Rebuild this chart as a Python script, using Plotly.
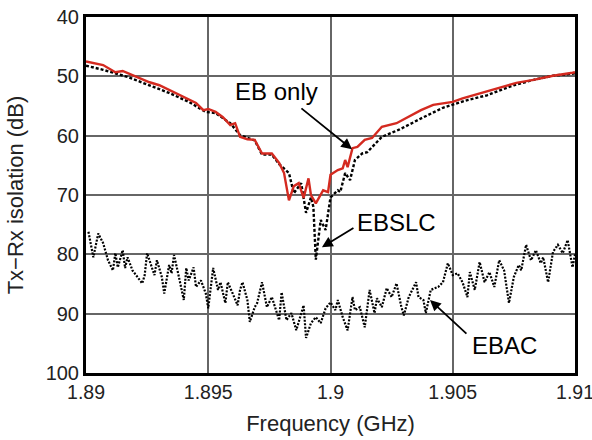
import plotly.graph_objects as go

# ---- data ----
eb_freq = [1.8900, 1.8907, 1.8912, 1.8915, 1.8919, 1.8926, 1.8930, 1.8934, 1.8940, 1.8945,
           1.8948, 1.8950, 1.8953, 1.8956, 1.8959, 1.8961, 1.8963, 1.8966, 1.8969, 1.8972,
           1.8976, 1.8979, 1.8981, 1.8983, 1.8985, 1.8987, 1.8989, 1.8991, 1.8992, 1.8994,
           1.8997, 1.8999, 1.9000, 1.9003, 1.9005, 1.9006, 1.9007, 1.9009, 1.9011, 1.9014,
           1.9017, 1.9021, 1.9027, 1.9033, 1.9037, 1.9042, 1.9050, 1.9054, 1.9062, 1.9069,
           1.9076, 1.9083, 1.9091, 1.9099, 1.9100]
eb_db = [47.5, 48.1, 49.3, 49.1, 49.8, 51.0, 51.5, 52.3, 53.5, 54.5,
         55.7, 55.5, 56.0, 56.9, 58.2, 57.9, 60.2, 60.6, 60.7, 63.0,
         63.0, 64.6, 66.3, 70.9, 68.5, 68.0, 70.5, 67.2, 70.0, 71.4,
         69.2, 69.5, 66.6, 65.8, 65.5, 64.1, 65.3, 62.1, 61.9, 60.7,
         60.4, 58.5, 57.9, 56.5, 55.7, 54.8, 54.3, 53.7, 52.8, 52.0,
         51.1, 50.6, 49.9, 49.4, 49.3]

ebslc_freq = [1.8900, 1.8907, 1.8917, 1.8926, 1.8934, 1.8942, 1.8949, 1.8953, 1.8959, 1.8963,
              1.8966, 1.8969, 1.8972, 1.8976, 1.8979, 1.8983, 1.8985, 1.8988, 1.8990, 1.8992,
              1.8993, 1.8994, 1.8996, 1.8998, 1.9000, 1.9003, 1.9004, 1.9006, 1.9008, 1.9010,
              1.9013, 1.9015, 1.9021, 1.9028, 1.9038, 1.9046, 1.9056, 1.9064, 1.9075, 1.9083,
              1.9091, 1.9099, 1.9100]
ebslc_db = [48.2, 48.9, 50.1, 51.5, 52.8, 54.3, 56.0, 56.2, 57.9, 59.9,
            60.4, 60.8, 63.2, 63.2, 64.8, 66.3, 69.7, 68.0, 73.0, 70.4,
            72.0, 80.9, 74.2, 75.9, 70.4, 69.2, 69.5, 66.3, 67.5, 64.1,
            63.0, 62.8, 60.2, 59.0, 56.9, 55.3, 54.0, 53.2, 51.5, 50.6,
            49.9, 49.6, 49.5]

ebac_freq = [1.8901, 1.8903, 1.8905, 1.8907, 1.8909, 1.8911, 1.8912, 1.8913, 1.8915, 1.8916,
             1.8917, 1.8919, 1.8921, 1.8923, 1.8924, 1.8925, 1.8927, 1.8928, 1.8929, 1.8931,
             1.8932, 1.8934, 1.8935, 1.8936, 1.8938, 1.8940, 1.8941, 1.8942, 1.8944, 1.8945,
             1.8947, 1.8949, 1.8950, 1.8952, 1.8954, 1.8955, 1.8957, 1.8958, 1.8960, 1.8962,
             1.8963, 1.8964, 1.8966, 1.8967, 1.8969, 1.8970, 1.8972, 1.8974, 1.8976, 1.8979,
             1.8980, 1.8982, 1.8984, 1.8986, 1.8989, 1.8990, 1.8992, 1.8994, 1.8996, 1.8998,
             1.9000, 1.9002, 1.9003, 1.9005, 1.9007, 1.9009, 1.9010, 1.9012, 1.9014, 1.9016,
             1.9018, 1.9019, 1.9021, 1.9023, 1.9025, 1.9027, 1.9029, 1.9030, 1.9032, 1.9035,
             1.9036, 1.9038, 1.9039, 1.9041, 1.9044, 1.9046, 1.9048, 1.9050, 1.9052, 1.9054,
             1.9056, 1.9057, 1.9059, 1.9061, 1.9063, 1.9065, 1.9067, 1.9069, 1.9071, 1.9073,
             1.9075, 1.9077, 1.9078, 1.9080, 1.9082, 1.9084, 1.9086, 1.9087, 1.9089, 1.9091,
             1.9093, 1.9095, 1.9097, 1.9099, 1.9100]
ebac_db = [76.2, 80.5, 76.5, 78.1, 81.0, 82.7, 79.8, 82.2, 79.3, 82.3,
           80.5, 82.7, 83.8, 84.9, 83.5, 79.8, 82.3, 83.5, 81.0, 83.8,
           86.6, 81.8, 83.2, 80.1, 83.8, 87.7, 82.3, 84.4, 82.2, 85.5,
           84.4, 86.6, 89.1, 82.3, 86.0, 84.7, 88.2, 84.7, 86.6, 88.6,
           86.0, 84.7, 87.7, 91.4, 88.9, 88.2, 84.7, 88.9, 87.2, 91.1,
           86.4, 91.1, 89.9, 92.8, 88.6, 94.1, 91.6, 90.6, 91.6, 89.1,
           88.1, 89.4, 87.7, 90.6, 92.8, 87.2, 89.4, 88.9, 92.3, 86.0,
           89.9, 87.4, 88.9, 85.7, 87.2, 84.9, 88.9, 90.3, 87.2, 84.7,
           87.2, 87.7, 89.9, 86.0, 85.5, 84.7, 81.5, 83.5, 83.2, 84.7,
           87.2, 83.0, 86.0, 81.3, 84.7, 83.0, 85.5, 81.0, 82.7, 88.2,
           83.8, 81.8, 82.7, 78.4, 81.0, 79.3, 81.5, 80.5, 84.7, 79.6,
           78.4, 79.8, 77.6, 82.2, 80.0]

x_ticks = [1.89, 1.895, 1.9, 1.905, 1.91]
x_tick_labels = ["1.89", "1.895", "1.9", "1.905", "1.91"]
y_ticks = [40, 50, 60, 70, 80, 90, 100]

FONT = "Liberation Sans, Arial, sans-serif"

fig = go.Figure()
fig.add_trace(go.Scatter(x=ebac_freq, y=ebac_db, mode="lines", name="EBAC",
                         line=dict(color="black", width=2.2, dash="2px,1.5px")))
fig.add_trace(go.Scatter(x=ebslc_freq, y=ebslc_db, mode="lines", name="EBSLC",
                         line=dict(color="black", width=2.4, dash="3px,2px")))
fig.add_trace(go.Scatter(x=eb_freq, y=eb_db, mode="lines", name="EB only",
                         line=dict(color="#d42a20", width=2.4)))

# labels
labels = [("EB only", 1.8978, 52.6), ("EBSLC", 1.9027, 74.7), ("EBAC", 1.9071, 95.3)]
for txt, lx, ly in labels:
    fig.add_annotation(x=lx, y=ly, text=txt, showarrow=False,
                       font=dict(family=FONT, size=24, color="black"))
# arrows (tip x,y ; tail ax,ay)
arrows = [(1.90088, 62.3, 1.89875, 55.2),
          (1.89965, 78.8, 1.9010, 75.4),
          (1.90407, 87.7, 1.90562, 93.6)]
for tx, ty, ax, ay in arrows:
    fig.add_annotation(x=tx, y=ty, ax=ax, ay=ay, axref="x", ayref="y", xref="x", yref="y",
                       text="", showarrow=True, arrowhead=2, arrowsize=1.2,
                       arrowwidth=1.8, arrowcolor="black")

fig.update_layout(
    width=592, height=440,
    margin=dict(l=86, r=17, t=17, b=67),
    paper_bgcolor="white", plot_bgcolor="white",
    showlegend=False,
    font=dict(family=FONT, color="#222"),
)
fig.update_xaxes(range=[1.8899999, 1.9100001], tickvals=x_ticks, ticktext=x_tick_labels,
                 automargin=False, ticklabeloverflow="allow",
                 showgrid=True, gridcolor="#666", gridwidth=1.5,
                 showline=True, linecolor="black", linewidth=3, mirror=True,
                 ticks="", zeroline=False,
                 tickfont=dict(size=19.5, color="#222"),
                 title=dict(text="Frequency (GHz)", font=dict(size=22, color="#222"), standoff=14))
fig.update_yaxes(range=[100, 40], tickvals=y_ticks,
                 automargin=False, ticklabeloverflow="allow",
                 showgrid=True, gridcolor="#666", gridwidth=1.5,
                 showline=True, linecolor="black", linewidth=3, mirror=True,
                 ticks="", zeroline=False,
                 tickfont=dict(size=20, color="#222"),
                 title=dict(text="Tx\u2212Rx isolation (dB)", font=dict(size=22, color="#222"), standoff=16))

fig.write_html("out.html", config={"displayModeBar": False},
               post_script="document.body.style.margin='0';document.body.style.overflow='hidden';")
